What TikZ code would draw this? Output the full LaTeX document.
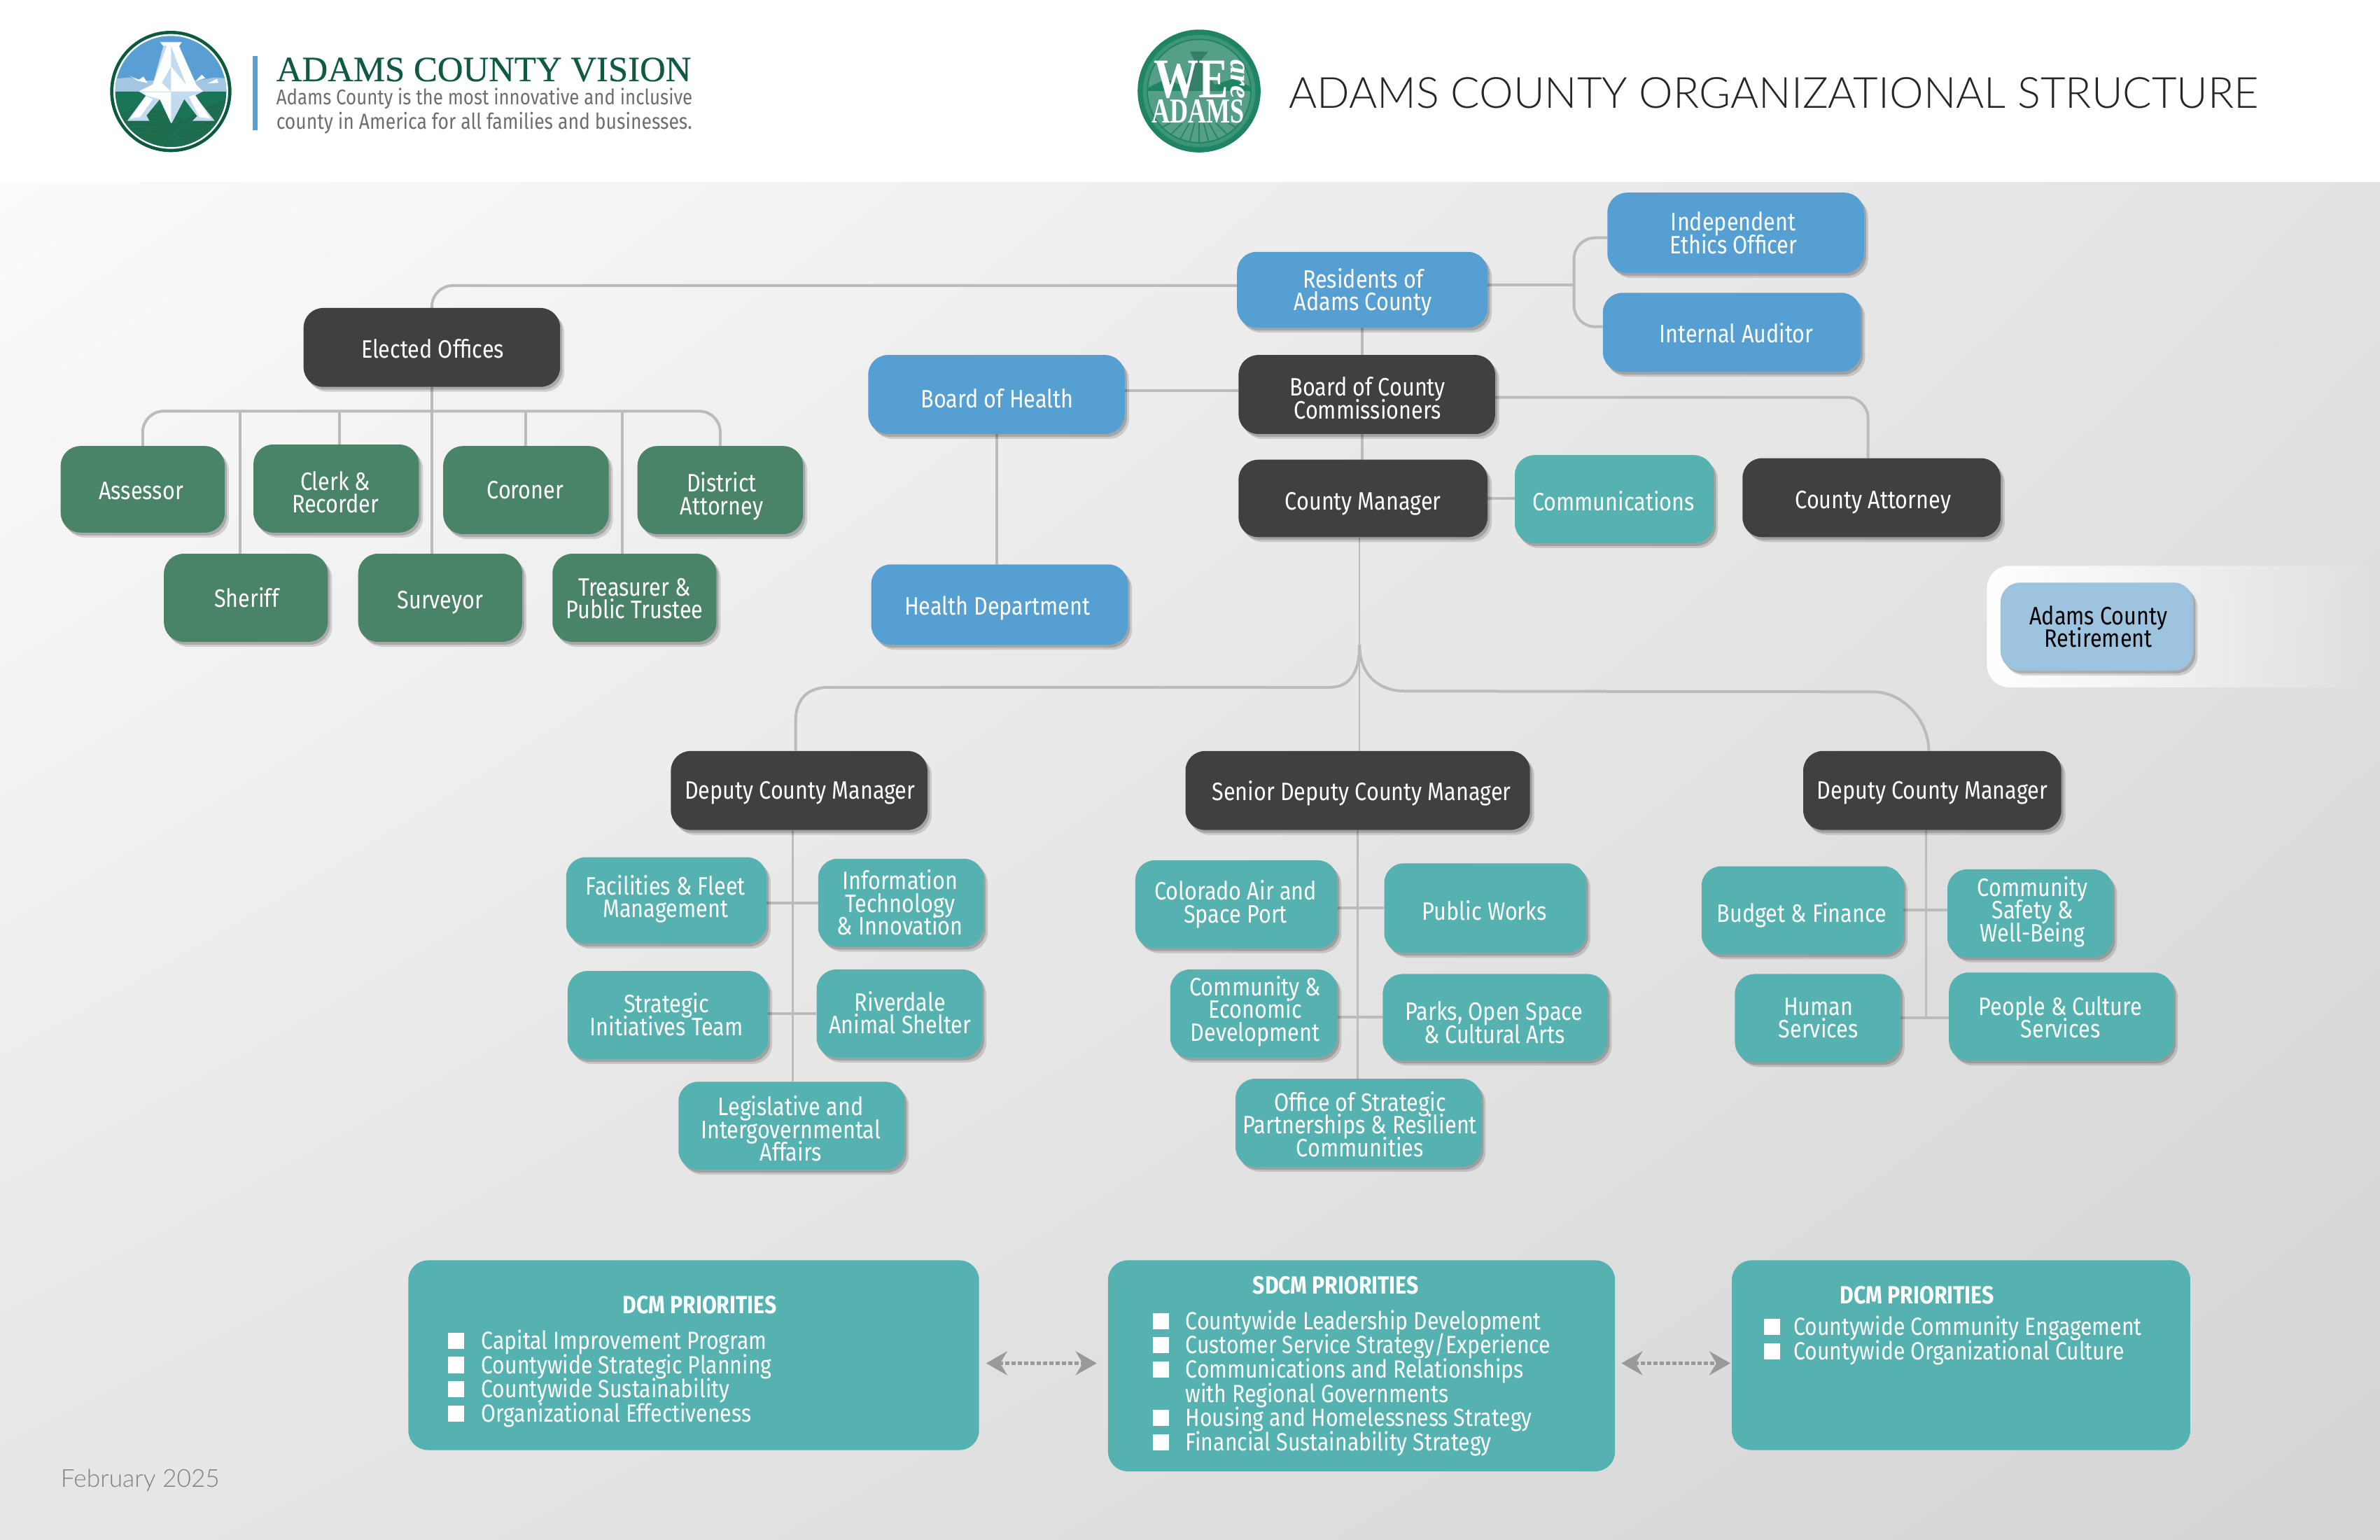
\documentclass[tikz,border=0pt]{standalone}
\usepackage{fontspec}
\usetikzlibrary{shadows,shadings,fadings,arrows.meta,calc}
\newfontfamily\boxf[FakeStretch=0.85]{Fira Sans}
\newfontfamily\lightf{Lato Light}
\setmainfont{Liberation Serif}
\newfontfamily\headf[FakeBold=0.4]{Liberation Serif}
\setlength{\lineskiplimit}{-40pt}
\setlength{\normallineskiplimit}{-40pt}
\definecolor{bluebox}{HTML}{559FD2}
\definecolor{darkbox}{HTML}{404040}
\definecolor{greenbox}{HTML}{4A8468}
\definecolor{tealbox}{HTML}{55B2B1}
\definecolor{retire}{HTML}{9DC3DE}
\definecolor{connc}{HTML}{BBBBBB}
\definecolor{bgA}{HTML}{FBFBFB}
\definecolor{bgB}{HTML}{E2E2E2}
\definecolor{bgC}{HTML}{E6E6E6}
\definecolor{bgD}{HTML}{D5D5D5}
\definecolor{logodk}{HTML}{0B5A3F}
\definecolor{logosky}{HTML}{5A9FD4}
\definecolor{logoband}{HTML}{A3C6E2}
\definecolor{logogrn}{HTML}{1A7456}
\definecolor{logofld}{HTML}{1E6B4E}
\definecolor{logolt}{HTML}{C3DBEF}
\definecolor{headgrn}{HTML}{0F5A40}
\definecolor{subgray}{HTML}{6D6E71}
\definecolor{weA}{HTML}{1F8464}
\definecolor{weB}{HTML}{3C9579}
\definecolor{weC}{HTML}{559F88}
\pgfdeclarelayer{bg}\pgfsetlayers{bg,main}
\tikzset{
  orgbox/.style={rectangle,rounded corners=28pt,inner sep=0pt,
    drop shadow={shadow xshift=3pt,shadow yshift=-4pt,opacity=.18,fill=black},
    drop shadow={shadow xshift=6pt,shadow yshift=-7pt,opacity=.14,fill=black}},
  boxtext/.style={inner sep=0pt,align=center,text=white,font=\boxf\fontsize{36}{32.5}\selectfont},
  bluen/.style={orgbox,fill=bluebox},
  darkn/.style={orgbox,fill=darkbox},
  greenn/.style={orgbox,fill=greenbox},
  tealn/.style={orgbox,fill=tealbox},
  retn/.style={orgbox,fill=retire},
  priobox/.style={rectangle,rounded corners=28pt,inner sep=0pt,fill=tealbox},
  priohead/.style={inner sep=0pt,text=white,font=\boxf\bfseries\fontsize{35.5}{33}\selectfont},
  prioitem/.style={inner sep=0pt,anchor=base west,text=white,font=\boxf\fontsize{35.5}{33}\selectfont},
  conn/.style={draw=connc,line width=4pt},
  connr/.style={conn,rounded corners=30pt},
  connthin/.style={draw=connc,line width=2.5pt},
  dasharrow/.style={draw=black!40,line width=5pt,dash pattern=on 6pt off 3pt,
    {Stealth[length=30pt,width=34pt,inset=10pt]}-{Stealth[length=30pt,width=34pt,inset=10pt]}},
}
\newcommand{\pbx}[6]{%
  \pgfmathsetmacro\bxw{(#5-#3)*2.16837}%
  \pgfmathsetmacro\bxh{(#6-#4)*2.16837}%
  \pgfmathsetmacro\bxx{(#3+#5)/2}%
  \pgfmathsetmacro\bxy{(#4+#6)/2}%
  \node[#2,minimum width=\bxw pt,minimum height=\bxh pt] (#1) at (\bxx,\bxy) {};}
\newcommand{\bx}[9]{%
  \pbx{#1}{#2}{#3}{#4}{#5}{#6}%
  \node[boxtext] (#1t) at (#7,#8) {#9};}
\newcommand{\pitem}[5]{%
  \fill[white] (#2,#4-4.7) rectangle ++(10.7,10.7);
  \node[prioitem] (#1) at (#3,#4+6.2) {#5};}
\begin{document}
\begin{tikzpicture}[x=2.16837pt,y=-2.16745pt]
\useasboundingbox (0,0) rectangle (1568,1015);
\begin{pgfonlayer}{bg}
\fill[white] (0,0) rectangle (1568,1015);
\shade[upper left=bgA,upper right=bgB,lower left=bgC,lower right=bgD] (0,120) rectangle (1568,1015);
\fill[white,path fading=east,rounded corners=32pt] (1309,373) rectangle (1568,453);
\end{pgfonlayer}

% ---- left logo
\begin{scope}[x=0.3333pt,y=-0.3333pt,shift={(150pt,-40pt)}]
\fill[logodk] (282,272) circle [radius=260];
\fill[white] (282,272) circle [radius=246];
\begin{scope}
\clip (282,272) circle [radius=238];
\fill[logosky] (0,0) rectangle (600,272);
\fill[logoband] (0,272) -- (0,222) -- (100,212) -- (180,225) -- (400,225) -- (470,212) -- (600,222) -- (600,272) -- cycle;
\fill[logogrn] (0,272) rectangle (600,600);
\fill[logofld] (0,400) .. controls (100,340) and (250,320) .. (340,400) .. controls (420,340) and (500,300) .. (600,290) -- (600,600) -- (0,600) -- cycle;
\foreach \d in {0,28,56,84}{
  \draw[logogrn,line width=1.6pt] (20,400+\d) .. controls (120,350+\d) and (240,350+\d) .. (340,430+\d);
  \draw[logogrn,line width=1.6pt] (540,340+\d) .. controls (440,360+\d) and (340,400+\d) .. (240,500+\d);
}
\fill[white] (105,205) -- (145,222) -- (165,208) -- (182,236) -- (140,226) -- cycle;
\fill[white] (388,228) -- (415,200) -- (430,215) -- cycle;
\fill[white] (438,238) -- (480,218) -- (486,235) -- cycle;
\end{scope}
\fill[logolt] (235,60) -- (330,60) -- (318,78) -- (390,240) -- (420,272) -- (385,290) -- (470,398) -- (375,398) -- (395,378) -- (340,305) -- (285,410) -- (235,305) -- (178,375) -- (190,398) -- (95,398) -- (175,290) -- (145,272) -- (205,240) -- (250,78) -- cycle;
\fill[white] (240,62) -- (328,62) -- (318,76) -- (250,76) -- cycle;
\fill[white] (265,76) -- (283,76) -- (283,165) -- (243,235) -- (283,272) -- (145,272) -- (205,242) -- cycle;
\fill[white] (283,76) -- (316,76) -- (392,245) -- (420,272) -- (283,272) -- (283,165) -- (345,240) -- cycle;
\fill[white] (160,275) -- (283,275) -- (283,408) -- (235,305) -- (178,290) -- cycle;
\fill[white] (175,292) -- (108,388) -- (150,382) -- (205,305) -- cycle;
\fill[white] (360,295) -- (405,382) -- (452,388) -- (385,285) -- cycle;
\draw[logolt,line width=1pt] (285,90) -- (345,238);
\end{scope}
\fill[bluebox] (166.3,37) rectangle (169.6,86);
\node[inner sep=0pt,anchor=base west,text=headgrn] (vhead) at (182,53.5) {\headf\fontsize{50.8}{52}\selectfont ADAMS COUNTY VISION};
\node[inner sep=0pt,anchor=base west,text=subgray] (vsub1) at (182,69) {\boxf\fontsize{30.4}{30}\selectfont Adams County is the most innovative and inclusive};
\node[inner sep=0pt,anchor=base west,text=subgray] (vsub2) at (182,85) {\boxf\fontsize{31.2}{30}\selectfont county in America for all families and businesses.};

% ---- right logo
\fill[weA] (790,60) circle [radius=40.5];
\fill[weB] (790,60) circle [radius=37];
\fill[weA] (790,60) circle [radius=34.5];
\fill[weC] (790,60) circle [radius=33.6];
\begin{scope}
\clip (790,60) circle [radius=33.6];
\fill[weA] (756,58) -- (768,52) -- (778,56) -- (800,56) -- (812,52) -- (826,58) -- (826,62) -- (756,62) -- cycle;
\fill[weB!85!black] (784,34) -- (796,34) -- (791,40) -- (806,66) -- (774,66) -- (787,40) -- cycle;
\foreach \t in {-60,-45,...,60}{
  \draw[weA,line width=1.6pt] (790,70) ++(\t:0) -- ++({90+\t}:40);
}
\fill[weC] (750,60) rectangle (830,81);
\end{scope}
\node[inner sep=0pt,text=white] (we) at (785,52.5) {\scalebox{.8}[1]{\bfseries\fontsize{80}{80}\selectfont WE}};
\node[inner sep=0pt,text=white] (weadams) at (789.5,73.5) {\scalebox{.72}[1]{\bfseries\fontsize{50}{50}\selectfont ADAMS}};
\node[inner sep=0pt,text=white,rotate=-90] (weare) at (815.6,52.4) {\bfseries\itshape\fontsize{42}{42}\selectfont are};

\node[inner sep=0pt,anchor=base west,text=black!85] (title) at (849,71.5) {\lightf\fontsize{61.4}{62}\selectfont ADAMS COUNTY ORGANIZATIONAL STRUCTURE};
\node[inner sep=0pt,anchor=base west,text=black!50] (date) at (40,980) {\lightf\fontsize{35.3}{36}\selectfont February 2025};

% ---- boxes
\bx{res}{bluen}{815}{166}{980}{216}{898}{192.5}{Residents of\\Adams County}
\bx{ethics}{bluen}{1059}{127}{1228}{180}{1142}{153.5}{Independent\\Ethics Officer}
\bx{auditor}{bluen}{1056}{193}{1226}{245}{1144}{219.5}{Internal Auditor}
\bx{boh}{bluen}{572}{234}{741}{286}{657}{262.5}{Board of Health}
\bx{hd}{bluen}{574}{372}{743}{425}{657}{401}{Health Department}
\bx{eo}{darkn}{200}{203}{369}{255}{285}{230}{Elected Offices}
\bx{board}{darkn}{816}{234}{985}{286}{901}{262.5}{Board of County\\Commissioners}
\bx{cm}{darkn}{816}{303}{980}{354}{898}{332}{County Manager}
\bx{attorney}{darkn}{1148}{302}{1318}{354}{1234}{331}{County Attorney}
\bx{dl}{darkn}{442}{495}{611}{547}{527}{522.5}{Deputy County Manager}
\bx{sd}{darkn}{781}{495}{1008}{547}{897}{523}{Senior Deputy County Manager}
\bx{dr}{darkn}{1188}{495}{1358}{547}{1273}{522.5}{Deputy County Manager}
\bx{assessor}{greenn}{40}{294}{148}{351}{93}{323.5}{Assessor}
\bx{clerk}{greenn}{167}{293}{276}{351}{221}{324.5}{Clerk \&\\Recorder}
\bx{coroner}{greenn}{292}{294}{401}{352}{346}{323}{Coroner}
\bx{district}{greenn}{420}{294}{529}{352}{475.5}{327}{District\\Attorney}
\bx{sheriff}{greenn}{108}{365}{216}{423}{162.5}{394}{Sheriff}
\bx{surveyor}{greenn}{236}{365}{344}{423}{290}{397}{Surveyor}
\bx{treasurer}{greenn}{364}{365}{472}{423}{418}{394.5}{Treasurer \&\\Public Trustee}
\bx{comm}{tealn}{998}{300}{1129}{358}{1063}{330}{Communications}
\bx{fac}{tealn}{373}{565}{505}{622}{438.5}{592.5}{Facilities \& Fleet\\Management}
\bx{info}{tealn}{539}{566}{648}{624}{593}{595}{Information\\Technology\\\& Innovation}
\bx{sit}{tealn}{374}{640}{506}{698}{439}{668.5}{Strategic\\Initiatives Team}
\bx{riv}{tealn}{538}{639}{647}{697}{593}{667.5}{Riverdale\\Animal Shelter}
\bx{leg}{tealn}{447}{713}{596}{771}{521}{744}{Legislative and\\Intergovernmental\\Affairs}
\bx{col}{tealn}{748}{567}{881}{625}{814}{596}{Colorado Air and\\Space Port}
\bx{pw}{tealn}{912}{569}{1045}{628}{978}{600}{Public Works}
\bx{ced}{tealn}{771}{639}{881}{697}{827}{666.5}{Community \&\\Economic\\Development}
\bx{parks}{tealn}{911}{642}{1059}{699}{984.5}{674}{Parks, Open Space\\\& Cultural Arts}
\bx{office}{tealn}{814}{711}{976}{769}{896}{741}{Office of Strategic\\Partnerships \& Resilient\\Communities}
\bx{bud}{tealn}{1121}{571}{1254}{629}{1187}{603}{Budget \& Finance}
\bx{csw}{tealn}{1283}{573}{1392}{631}{1339}{601}{Community\\Safety \&\\Well-Being}
\bx{hum}{tealn}{1143}{642}{1252}{700}{1198}{671}{Human\\Services}
\bx{pc}{tealn}{1284}{641}{1432}{699}{1357.5}{670.5}{People \& Culture\\Services}
\bx{ret}{retn}{1318}{384}{1445}{442}{1382.5}{413}{\color{black}Adams County\\\color{black}Retirement}

% ---- priority boxes
\pbx{pl}{priobox}{269}{830.7}{645}{955.7}
\pbx{pm}{priobox}{730}{830.7}{1064}{969.7}
\pbx{pr}{priobox}{1141}{830.7}{1443}{955.7}
\node[priohead] (plh) at (461,860) {DCM PRIORITIES};
\node[priohead] (pmh) at (880,847) {SDCM PRIORITIES};
\node[priohead] (prh) at (1263,853.5) {DCM PRIORITIES};
\pitem{pl1}{295}{317}{883}{Capital Improvement Program}
\pitem{pl2}{295}{317}{899}{Countywide Strategic Planning}
\pitem{pl3}{295}{317}{915}{Countywide Sustainability}
\pitem{pl4}{295}{317}{931}{Organizational Effectiveness}
\pitem{pm1}{759.5}{781}{870}{Countywide Leadership Development}
\pitem{pm2}{759.5}{781}{886}{Customer Service Strategy/Experience}
\pitem{pm3}{759.5}{781}{902}{Communications and Relationships}
\node[prioitem] (pm3b) at (781,924.2) {with Regional Governments};
\pitem{pm4}{759.5}{781}{934}{Housing and Homelessness Strategy}
\pitem{pm5}{759.5}{781}{950}{Financial Sustainability Strategy}
\pitem{pr1}{1162}{1181.5}{874}{Countywide Community Engagement}
\pitem{pr2}{1162}{1181.5}{890}{Countywide Organizational Culture}

% ---- connectors
\coordinate (alevel) at (0,898.5);
\draw[dasharrow] ([xshift=10pt]pl.east |- alevel) -- ([xshift=-16pt]pm.west |- alevel);
\draw[dasharrow] ([xshift=9pt]pm.east |- alevel) -- ([xshift=-2pt]pr.west |- alevel);
\begin{pgfonlayer}{bg}
\coordinate (ebar) at (284,271);
\coordinate (audfork) at (1037,188);
\coordinate (cmbase) at ([xshift=-5pt]cm.south);
\coordinate (fork) at (cmbase |- 0,425);
\coordinate (leftA) at (876,453);
\coordinate (leftB) at (546,453);
\coordinate (rightA) at (925,455.5);
\coordinate (rightB) at (1234,456);
\coordinate (stemL) at ([xshift=-9pt]dl.south);
\coordinate (stemR) at ([xshift=-9pt]dr.south);
\draw[connr] ([yshift=6pt]res.west) -| (eo.north);
\draw[conn] (res.east |- audfork) -- (audfork);
\draw[connr] ([yshift=-7pt]ethics.west) -| (audfork) |- ([yshift=8pt]auditor.west);
\draw[conn] (res.south) -- (res.south |- board.north);
\draw[conn] (res.south |- board.south) -- (res.south |- cm.north);
\draw[conn] ([yshift=6pt]boh.east) -- ([yshift=6pt]board.west);
\draw[conn] (boh.south) -- (boh.south |- hd.north);
\draw[connr] ([yshift=-4pt]board.east) -| ([xshift=-5pt]attorney.north);
\draw[conn] (cm.east) -- (comm.west |- cm.east);
% elected offices
\draw[conn] (eo.south) -- (eo.south |- surveyor.north);
\draw[connr] (assessor.north) |- (ebar) -| (district.north);
\draw[conn] ([xshift=5pt]clerk.north) -- ([xshift=5pt]clerk.north |- ebar);
\draw[conn] (coroner.north) -- (coroner.north |- ebar);
\draw[conn] ([xshift=-8pt]sheriff.north) -- ([xshift=-8pt]sheriff.north |- ebar);
\draw[conn] ([xshift=-17pt]treasurer.north) -- ([xshift=-17pt]treasurer.north |- ebar);
% county manager trunk
\draw[connthin] (cmbase) -- (cmbase |- sd.north);
\draw[conn] (fork) .. controls +(0,20) and +(12,0) .. (leftA) -- (leftB) .. controls +(-14,0) and +(0,-14) .. ([xshift=-5pt]dl.north |- 0,475) -- ([xshift=-5pt]dl.north);
\draw[conn] (fork) .. controls +(0,22) and +(-14,0) .. (rightA) -- (rightB) .. controls +(20,0) and +(0,-20) .. ([xshift=-5pt]dr.north);
% deputy stems
\draw[connthin] (stemL) -- (stemL |- leg.north);
\draw[conn] (info.west) -- (fac.east |- info.west);
\draw[conn] (riv.west) -- (sit.east |- riv.west);
\draw[connthin] (sd.south) -- (sd.south |- office.north);
\draw[conn] (pw.west) -- (col.east |- pw.west);
\draw[conn] (parks.west) -- (ced.east |- parks.west);
\draw[connthin] (stemR) -- (stemR |- hum.east);
\draw[conn] (bud.east) -- (csw.west |- bud.east);
\draw[conn] (hum.east) -- (pc.west |- hum.east);
\end{pgfonlayer}
\end{tikzpicture}
\end{document}
